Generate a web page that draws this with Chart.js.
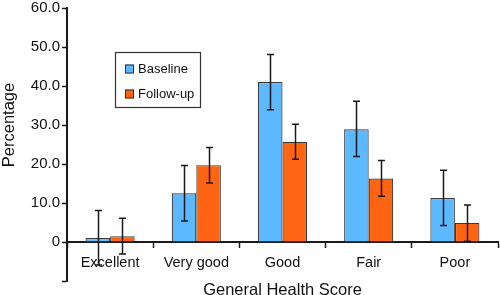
<!DOCTYPE html>
<html>
<head>
<meta charset="utf-8">
<script src="https://cdn.jsdelivr.net/npm/chart.js@4"></script>
<style>
  html, body { margin: 0; padding: 0; background: #fff; }
  #wrap { width: 500px; height: 295px; position: relative; }
</style>
</head>
<body>
<div id="wrap"><canvas id="healthChart"></canvas></div>
<script>
// categorii si valori
const categories = ["Excellent", "Very good", "Good", "Fair", "Poor"];
const baseline = [1.0, 12.5, 41.0, 28.9, 11.3];
const baselineLow = [-5.9, 5.4, 33.9, 21.9, 4.2];
const baselineHigh = [8.1, 19.6, 48.1, 36.1, 18.4];
const followUp = [1.5, 19.7, 25.7, 16.3, 4.9];
const followUpLow = [-3.1, 15.1, 21.2, 11.7, 0.2];
const followUpHigh = [6.1, 24.2, 30.2, 20.9, 9.5];
const yTicks = [-10, 0, 10, 20, 30, 40, 50, 60];

const FONT = "'Liberation Sans', Arial, Helvetica, sans-serif";

// bare de eroare
const errorBars = {
    id: "errorBars",
    afterDatasetsDraw(chart) {
        const ctx = chart.ctx;
        const y = chart.scales.y;
        const ranges = [[baselineLow, baselineHigh], [followUpLow, followUpHigh]];
        ctx.save();
        ctx.strokeStyle = "#1a1a1a";
        ctx.lineWidth = 1.5;
        ranges.forEach((r, di) => {
            chart.getDatasetMeta(di).data.forEach((bar, i) => {
                const x = Math.round(bar.x) + 0.5;
                const y1 = y.getPixelForValue(r[0][i]);
                const y2 = y.getPixelForValue(r[1][i]);
                ctx.beginPath();
                ctx.moveTo(x, y1); ctx.lineTo(x, y2);
                ctx.moveTo(x - 3.5, y1); ctx.lineTo(x + 3.5, y1);
                ctx.moveTo(x - 3.5, y2); ctx.lineTo(x + 3.5, y2);
                ctx.stroke();
            });
        });
        ctx.restore();
    }
};

// legenda in interiorul graficului + titlul axei y (centrat pe partea pozitiva)
const boxLegend = {
    id: "boxLegend",
    afterDraw(chart) {
        const ctx = chart.ctx;
        const y = chart.scales.y;
        ctx.save();
        ctx.strokeStyle = "#333";
        ctx.lineWidth = 1.2;
        ctx.fillStyle = "#fff";
        ctx.fillRect(115.5, 52.5, 85, 55);
        ctx.strokeRect(115.5, 52.5, 85, 55);
        ctx.font = "13px " + FONT;
        ctx.textBaseline = "middle";
        chart.data.datasets.forEach((ds, i) => {
            const cy = 69 + i * 25;
            ctx.fillStyle = ds.backgroundColor;
            ctx.fillRect(125, cy - 4.5, 9, 9);
            ctx.lineWidth = 1;
            ctx.strokeStyle = "#333";
            ctx.strokeRect(125.5, cy - 4, 8, 8);
            ctx.fillStyle = "#111";
            ctx.fillText(ds.label, 138, cy);
        });

        const midY = (y.getPixelForValue(0) + y.getPixelForValue(60)) / 2;
        ctx.translate(9, midY);
        ctx.rotate(-Math.PI / 2);
        ctx.font = "16.5px " + FONT;
        ctx.textAlign = "center";
        ctx.textBaseline = "middle";
        ctx.fillStyle = "#111";
        ctx.fillText("Percentage", 0, 0);
        ctx.restore();
    }
};

const ctx = document.getElementById("healthChart").getContext("2d");
const chart = new Chart(ctx, {
    type: "bar",
    data: {
        labels: categories,
        datasets: [
            {
                label: "Baseline",
                data: baseline,
                backgroundColor: "#5cb8ff",
                borderColor: "#3a3a3a",
                borderWidth: 1.2,
                categoryPercentage: 0.57,
                barPercentage: 1.0
            },
            {
                label: "Follow-up",
                data: followUp,
                backgroundColor: "#ff6412",
                borderColor: "#3a3a3a",
                borderWidth: 1.2,
                categoryPercentage: 0.57,
                barPercentage: 1.0
            }
        ]
    },
    options: {
        responsive: true,
        maintainAspectRatio: false,
        animation: false,
        layout: { padding: { top: 6, right: 2, bottom: 14, left: 0 } },
        plugins: {
            legend: { display: false },
            tooltip: { enabled: false }
        },
        scales: {
            x: {
                position: { y: 0 },
                offset: true,
                border: { display: true, color: "#1a1a1a", width: 2 },
                grid: {
                    offset: true,
                    drawOnChartArea: false,
                    drawTicks: true,
                    tickLength: 5,
                    tickWidth: 1.5,
                    tickColor: "#1a1a1a"
                },
                ticks: {
                    color: "#111",
                    padding: 7,
                    font: { family: FONT, size: 14.5 }
                },
                title: {
                    display: true,
                    text: "General Health Score",
                    color: "#111",
                    padding: { top: 2, bottom: 0 },
                    font: { family: FONT, size: 16.5 }
                }
            },
            y: {
                min: -10,
                max: 60,
                afterBuildTicks: (axis) => {
                    axis.ticks = yTicks.map(v => ({ value: v }));
                },
                afterFit: (axis) => { axis.width = 67; },
                border: { display: true, color: "#1a1a1a", width: 2 },
                grid: {
                    drawOnChartArea: false,
                    drawTicks: true,
                    tickLength: 5,
                    tickWidth: 1.5,
                    tickColor: "#1a1a1a"
                },
                ticks: {
                    color: "#111",
                    padding: 2,
                    font: { family: FONT, size: 15, lineHeight: 0.8 },
                    callback: (v) => v < 0 ? "" : (v === 0 ? "0" : v.toFixed(1))
                },
                title: { display: false }
            }
        }
    },
    plugins: [errorBars, boxLegend]
});
</script>
</body>
</html>
